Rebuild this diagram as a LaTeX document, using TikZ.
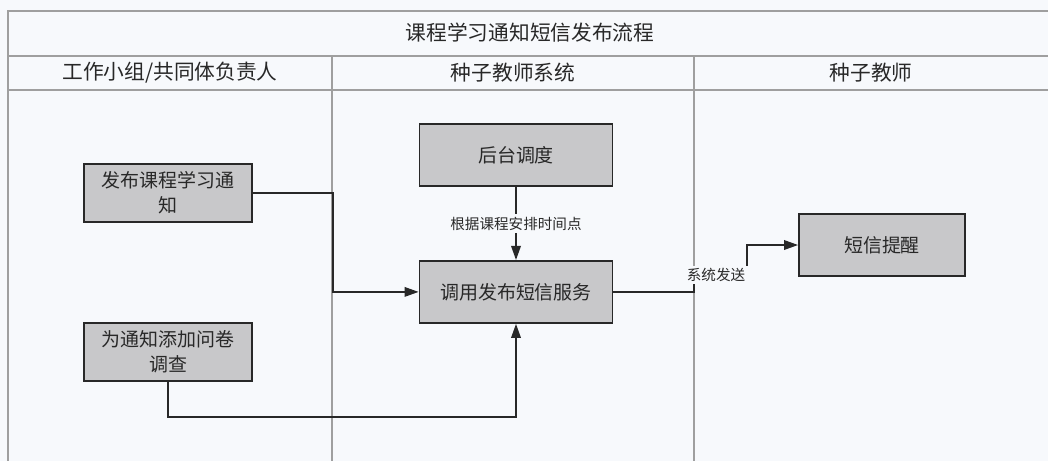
\documentclass[tikz,border=0pt]{standalone}
\usepackage{fontspec}
\setmainfont{Noto Sans CJK SC}
\usetikzlibrary{positioning, arrows.meta}
\usetikzlibrary{calc}

\definecolor{paper}{RGB}{247,249,252}
\definecolor{boxgray}{RGB}{200,200,202}
\definecolor{ink}{RGB}{40,40,40}

\begin{document}
\begin{tikzpicture}[x=0.02cm, y=-0.02cm,
    task/.style={draw=ink, line width=1.1pt, fill=boxgray, inner sep=0pt, align=center,
                 text=ink, font=\fontsize{10.8}{14.2}\selectfont},
    lane/.style={draw=gray!75, line width=0.6pt},
    flow/.style={draw=ink, line width=0.8pt, -{Triangle[length=8pt, width=5.5pt]}},
    lbl/.style={fill=paper, inner sep=1.5pt, text=ink, font=\fontsize{8.3}{10}\selectfont},
    head/.style={text=ink, font=\fontsize{11.8}{14}\selectfont}]
   \useasboundingbox (0,0) rectangle (1048,461);
   \fill[paper] (0,0) rectangle (1048,461);
   % Lanes and headers
   \draw[lane] (1048,11) -- (8,11) -- (8,461);
   \draw[lane] (8,56) -- (1048,56);
   \draw[lane] (8,90) -- (1048,90);
   \draw[lane] (332,56) -- (332,461);
   \draw[lane] (694,56) -- (694,461);
   \node[head] (title) at (530,33) {课程学习通知短信发布流程};
   \node[head] (lead) at (170,73) {工作小组/共同体负责人};
   \node[head] (sys) at (513,73) {种子教师系统};
   \node[head] (teach) at (871,73) {种子教师};
   % Tasks
   \node[task, minimum width=3.36cm, minimum height=1.16cm] (pub) at (168,193) {发布课程学习通\\知};
   \node[task, minimum width=3.36cm, minimum height=1.16cm, below = 1.98cm of pub] (quiz) {为通知添加问卷\\调查};
   \node[task, minimum width=3.86cm, minimum height=1.24cm] (sched) at (516,155) {后台调度};
   \node[task, minimum width=3.86cm, minimum height=1.24cm, below = 1.46cm of sched] (call) {调用发布短信服务};
   \node[task, minimum width=3.32cm, minimum height=1.24cm] (sms) at (882,245) {短信提醒};
   % Connect the tasks
   \coordinate (x1) at (333,0);
   \coordinate (x2) at (694,0);
   \coordinate (y2) at (0,417);
   \coordinate (j4) at (694,275);
   \coordinate (j5) at (747,275);
   \draw[flow] (pub.east) -| (x1 |- call.west) -- (call.west);
   \draw[flow] (quiz.south) |- (call.south |- y2) -- (call.south);
   \draw[flow] (sched.south) -- node[lbl] {根据课程安排时间点} (call.north);
   \draw[flow] (call.east) -- (x2 |- call.east) -- (j4) -- (j5) |- (sms.west);
   \node[lbl] (send) at (716,275) {系统发送};
\end{tikzpicture}
\end{document}
